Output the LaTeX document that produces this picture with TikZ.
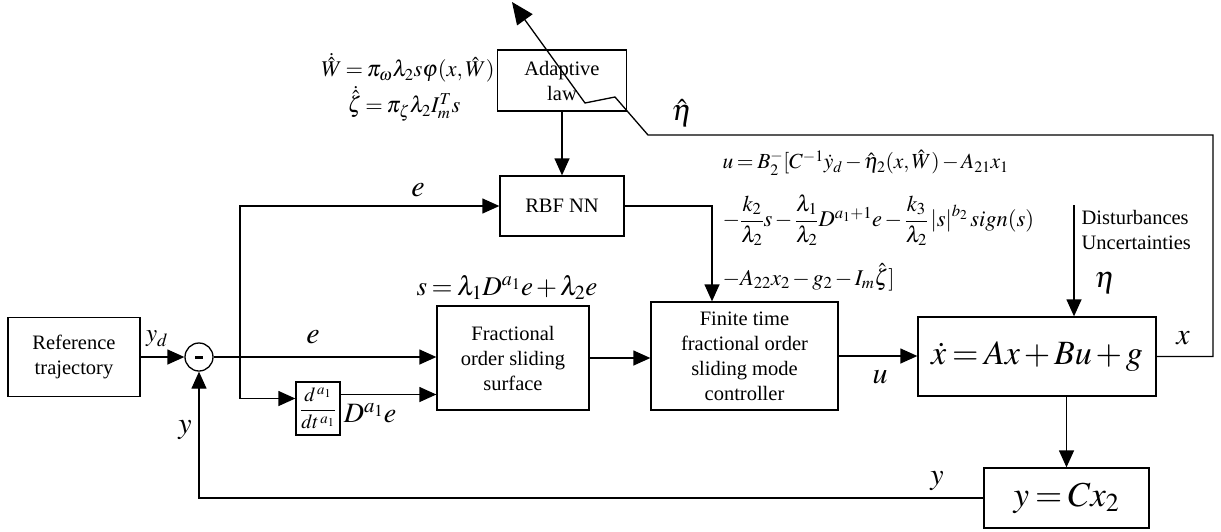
\documentclass[tikz,border=0pt]{standalone}
\usepackage{amsmath}
\usepackage{mathptmx}
\usepackage[no-math]{fontspec}
\setmainfont{Liberation Serif}
\usetikzlibrary{arrows.meta,calc}
\newcommand{\tightmath}{\medmuskip=2mu\thickmuskip=3mu}
\begin{document}
\begin{tikzpicture}[x=1pt,y=-1pt,
 line width=1.3pt,
 blk/.style={draw, line width=1.3pt, align=center, inner sep=0pt, font=\fontsize{20.5}{25}\selectfont},
 lbl/.style={inner sep=0pt, font=\fontsize{30}{30}\selectfont},
 eqn/.style={inner sep=0pt, font=\fontsize{22.5}{26}\selectfont\tightmath},
 arr/.style={-{Triangle[length=17pt,width=15pt]}},
 bigarr/.style={-{Triangle[length=22pt,width=19pt]}}
]
\useasboundingbox (0,0) rectangle (1221,531);

% blocks
\node[blk, minimum width=132pt, minimum height=79pt] (ref) at (74,357) {Reference\\trajectory};
\node[draw, circle, line width=1.3pt, minimum size=28pt, inner sep=0pt] (sum) at (199,357) {\rule[-3pt]{8pt}{2.4pt}};
\coordinate (br) at (240,357);
\node[blk, minimum width=124pt, minimum height=60pt] (rbf) at (562,206) {RBF NN};
\node[blk, minimum width=129pt, minimum height=61pt] (adapt) at (562,80.5) {Adaptive\\law};
\node[blk, minimum width=152pt, minimum height=104pt] (sms) at (513,358) {Fractional\\order sliding\\surface};
\node[blk, minimum width=187pt, minimum height=108pt] (ctrl) at (744.5,356) {Finite time\\fractional order\\sliding mode\\controller};
\node[blk, minimum width=238pt, minimum height=79pt, font=\fontsize{34}{34}\selectfont\tightmath] (plant) at (1037,356.5) {$\dot{x}=Ax+Bu+g$};
\node[blk, minimum width=165pt, minimum height=60pt, font=\fontsize{35}{35}\selectfont\tightmath] (out) at (1066.5,498) {$y=Cx_2$};
\node[blk, minimum width=44pt, minimum height=53pt, font=\fontsize{20}{20}\selectfont] (deriv) at (318,408.5) {$\dfrac{d^{\,a_1}}{dt^{\,a_1}}$};

% helper coordinates
\coordinate (din) at ([yshift=10pt]deriv.west);
\coordinate (dout) at ([yshift=14pt]deriv.east);
\coordinate (dist) at (1074,205);
\coordinate (c1) at (1213,135);
\coordinate (k1) at (648,135);
\coordinate (k2) at (615,97);
\coordinate (k3) at (585,103);
\coordinate (tip) at (512,2);

% connectors
\draw[arr] (ref.east) -- (sum.west);
\draw (sum.east) -- (br);
\draw[arr] (br) -- (br -| sms.west);
\draw[arr] (br) |- (rbf.west);
\draw[arr] (br) |- (din);
\draw[arr] (dout) -- (dout -| sms.west);
\draw[arr] (adapt.south) -- (rbf.north);
\draw[arr] (rbf.east) -| ([xshift=-32.5pt]ctrl.north);
\draw[arr] (sms.east) -- (sms.east -| ctrl.west);
\draw[arr] (ctrl.east) -- (ctrl.east -| plant.west);
\draw[arr] (dist) -- (dist |- plant.north);
\draw[arr] (out.north |- plant.south) -- (out.north);
\draw[arr] (out.west) -| (sum.south);
\draw[bigarr] (plant.east) -| (c1) -- (k1) -- (k2) -- (k3) -- (tip);

% labels
\node[lbl, font=\fontsize{25}{25}\selectfont] (lyd) at (157,339) {$y_d$};
\node[lbl] (le1) at (418,190) {$e$};
\node[lbl] (le2) at (313,337) {$e$};
\node[lbl, font=\fontsize{28}{28}\selectfont] (lD) at (370,413) {$D^{a_1}e$};
\node[lbl] (lu) at (880,377) {$u$};
\node[lbl] (lx) at (1183,338) {$x$};
\node[lbl] (leta) at (1105,283) {$\eta$};
\node[lbl] (letah) at (682,113) {$\hat{\eta}$};
\node[lbl] (ly1) at (185,430) {$y$};
\node[lbl] (ly2) at (937,481) {$y$};
\node[blk, draw=none, anchor=west, align=left] (distl) at (1081,230) {Disturbances\\Uncertainties};

% equations
\node[eqn] (adw) at (408,68) {$\dot{\hat{W}}=\pi_{\omega}\lambda_2 s\varphi(x,\hat{W})$};
\node[eqn] (adz) at (404,104) {$\dot{\hat{\zeta}}=\pi_{\zeta}\lambda_2 I_m^T s$};
\node[eqn, font=\fontsize{27}{27}\selectfont\tightmath] (seq) at (507,287) {$s=\lambda_1 D^{a_1}e+\lambda_2 e$};
\node[eqn, anchor=west, font=\fontsize{21.5}{26}\selectfont\tightmath] (u1) at (722,163) {$u=B_2^{-}[C^{-1}\dot{y}_d-\hat{\eta}_2(x,\hat{W})-A_{21}x_1$};
\node[eqn, anchor=west] (u2) at (722,220) {$-\dfrac{k_2}{\lambda_2}s-\dfrac{\lambda_1}{\lambda_2}D^{a_1+1}e-\dfrac{k_3}{\lambda_2}\left|s\right|^{b_2} sign(s)$};
\node[eqn, anchor=west] (u3) at (722,277) {$-A_{22}x_2-g_2-I_m\hat{\zeta}]$};
\end{tikzpicture}
\end{document}
